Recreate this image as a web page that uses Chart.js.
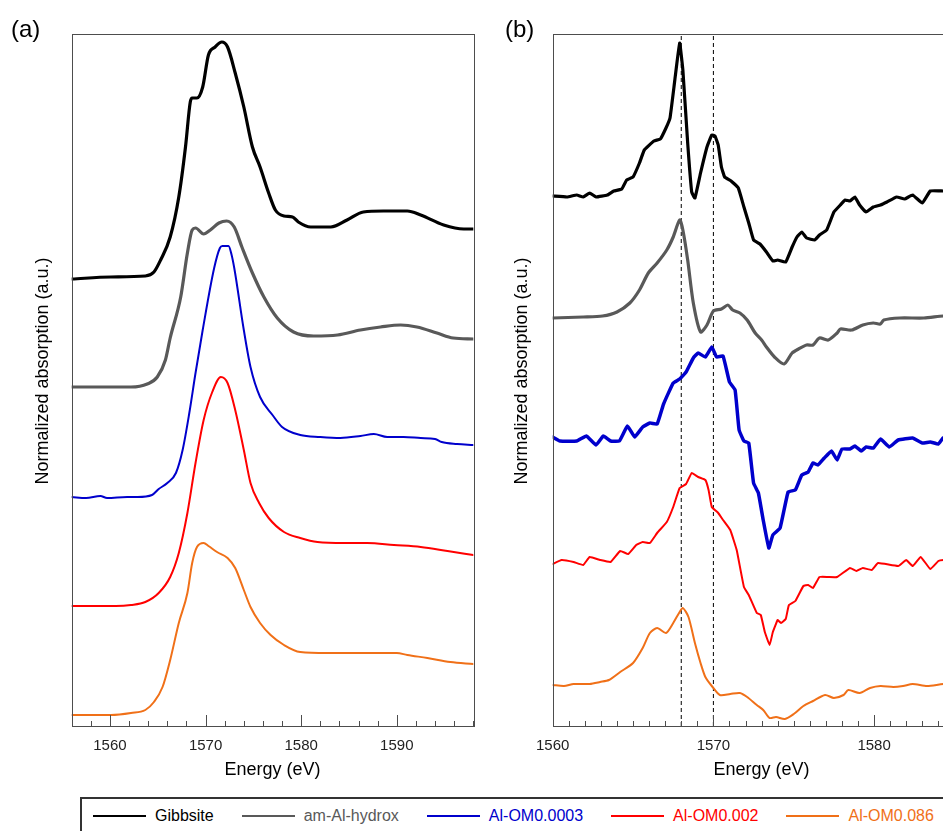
<!DOCTYPE html>
<html>
<head>
<meta charset="utf-8">
<script src="https://cdn.jsdelivr.net/npm/chart.js@4.4.0/dist/chart.umd.min.js"></script>
<style>
  html, body { margin: 0; padding: 0; overflow: hidden; background: #fff; }
  body { width: 943px; height: 831px; position: relative; font-family: 'Liberation Sans', Arial, sans-serif; }
  canvas { position: absolute; top: 0; }
  #panelA { left: 0; }
  #panelB { left: 490px; }
  #legend {
    position: absolute; left: 80px; top: 797px; width: 920px; height: 60px;
    border: 2px solid #333; box-sizing: border-box;
    display: flex; align-items: center;
    padding: 0 0 22px 11px; gap: 28px;
  }
  #legend .item { display: flex; align-items: center; font-size: 16px; white-space: nowrap; }
  #legend .swatch { width: 53px; height: 2px; margin-right: 9px; }
</style>
</head>
<body>
<canvas id="panelA" width="490" height="790"></canvas>
<canvas id="panelB" width="530" height="790"></canvas>
<div id="legend"></div>
<script>
// ---- series names / colours ----
const seriesNames = ['Gibbsite', 'am-Al-hydrox', 'Al-OM0.0003', 'Al-OM0.002', 'Al-OM0.086'];
const seriesColors = ['#000000', '#595959', '#0000CC', '#FF0000', '#F07018'];

// ---- (a) normalized XANES, stacked, [energy eV, a.u.] ----
const gibbsiteA = [[1556,4.47],[1560.1,4.49],[1563.7,4.50],[1564.6,4.54],[1565.3,4.66],[1566.3,4.89],[1567.2,5.29],[1567.9,5.79],[1568.4,6.24],[1568.6,6.28],[1569.1,6.28],[1569.7,6.39],[1570.3,6.71],[1571.0,6.79],[1571.7,6.84],[1572.3,6.79],[1573.1,6.53],[1574.0,6.19],[1574.9,5.79],[1575.7,5.59],[1576.6,5.33],[1577.3,5.16],[1578.2,5.10],[1579.1,5.09],[1579.7,5.04],[1581.0,4.99],[1583.1,4.99],[1584.8,5.06],[1586.5,5.14],[1588.6,5.15],[1591.1,5.15],[1592.5,5.11],[1594.9,5.01],[1597.0,4.97],[1598,4.97]];
const amAlA = [[1556,3.39],[1562.2,3.39],[1563.9,3.42],[1564.95,3.49],[1565.8,3.66],[1566.3,3.88],[1567.4,4.29],[1568.1,4.73],[1568.6,4.96],[1568.95,4.98],[1569.8,4.92],[1570.5,4.96],[1571.4,5.03],[1572.2,5.05],[1573.0,4.99],[1573.8,4.79],[1574.9,4.53],[1576.1,4.29],[1577.5,4.08],[1579.2,3.94],[1581.3,3.90],[1583.8,3.91],[1586.2,3.96],[1588.3,3.99],[1590.4,4.01],[1592.1,3.99],[1594.2,3.93],[1595.9,3.88],[1598,3.87]];
const om0003A = [[1556,2.29],[1557.5,2.28],[1559.0,2.30],[1559.7,2.28],[1561.8,2.29],[1562.9,2.29],[1564.4,2.31],[1565.1,2.37],[1566.0,2.43],[1566.9,2.53],[1567.6,2.76],[1568.3,3.13],[1568.95,3.53],[1569.7,3.96],[1570.9,4.58],[1571.5,4.78],[1571.75,4.80],[1572.4,4.80],[1572.7,4.72],[1573.0,4.58],[1574.0,3.96],[1574.7,3.59],[1575.7,3.29],[1577.0,3.11],[1578.0,2.99],[1579.9,2.91],[1582.0,2.89],[1584.1,2.88],[1586.2,2.90],[1587.6,2.92],[1589.0,2.89],[1590.7,2.89],[1592.5,2.88],[1594.0,2.87],[1594.7,2.84],[1596.3,2.82],[1598,2.81]];
const om002A = [[1556,1.20],[1558.3,1.20],[1560.6,1.20],[1562.2,1.21],[1563.7,1.24],[1565.1,1.33],[1566.3,1.49],[1567.2,1.73],[1568.1,2.13],[1568.95,2.63],[1569.8,3.06],[1570.7,3.34],[1571.6,3.49],[1572.3,3.43],[1573.1,3.16],[1574.0,2.76],[1574.7,2.43],[1575.6,2.23],[1576.6,2.08],[1578.2,1.94],[1579.9,1.88],[1581.7,1.84],[1584.5,1.83],[1586.9,1.83],[1589.7,1.81],[1592.5,1.79],[1595.3,1.75],[1598,1.71]];
const om086A = [[1556,0.11],[1560.1,0.11],[1562.2,0.13],[1563.7,0.16],[1564.6,0.24],[1565.5,0.39],[1566.3,0.66],[1567.2,1.03],[1568.1,1.33],[1568.6,1.63],[1569.1,1.79],[1569.8,1.83],[1570.3,1.80],[1571.2,1.74],[1572.3,1.68],[1573.1,1.58],[1574.0,1.36],[1574.7,1.19],[1575.7,1.03],[1576.8,0.91],[1578.2,0.81],[1579.9,0.74],[1582.7,0.73],[1586.2,0.73],[1590.0,0.73],[1591.1,0.71],[1593.2,0.68],[1595.6,0.64],[1598,0.62]];

// ---- (b) first derivative, stacked, [energy eV, a.u.] ----
const gibbsiteB = [[1560,5.30],[1560.9,5.29],[1561.5,5.31],[1561.9,5.29],[1562.3,5.33],[1562.7,5.29],[1563.4,5.31],[1563.8,5.35],[1564.3,5.37],[1564.6,5.46],[1565.0,5.49],[1565.4,5.63],[1565.7,5.76],[1566.3,5.85],[1566.7,5.87],[1567.05,5.98],[1567.3,6.08],[1567.6,6.46],[1567.9,6.83],[1568.1,6.56],[1568.4,5.83],[1568.65,5.34],[1568.85,5.28],[1569.2,5.53],[1569.6,5.79],[1569.9,5.91],[1570.1,5.90],[1570.3,5.81],[1570.5,5.59],[1570.7,5.49],[1571.1,5.45],[1571.55,5.38],[1571.9,5.19],[1572.2,5.03],[1572.5,4.86],[1572.9,4.82],[1573.3,4.74],[1573.7,4.65],[1574.0,4.66],[1574.5,4.64],[1574.9,4.79],[1575.2,4.89],[1575.5,4.94],[1575.8,4.88],[1576.3,4.86],[1576.6,4.91],[1577.05,4.96],[1577.5,5.14],[1577.9,5.21],[1578.2,5.26],[1578.5,5.25],[1578.8,5.29],[1579.1,5.21],[1579.5,5.14],[1579.95,5.19],[1580.4,5.21],[1580.8,5.24],[1581.4,5.29],[1581.9,5.27],[1582.4,5.31],[1583.0,5.23],[1583.5,5.35],[1584.3,5.35],[1585,5.35]];
const amAlB = [[1560,4.08],[1561.9,4.09],[1563.1,4.10],[1564.0,4.14],[1564.8,4.23],[1565.4,4.36],[1565.95,4.53],[1566.5,4.63],[1567.1,4.76],[1567.5,4.89],[1567.9,5.06],[1568.1,4.96],[1568.4,4.66],[1568.75,4.23],[1569.2,3.94],[1569.6,4.01],[1570.0,4.15],[1570.5,4.17],[1570.9,4.21],[1571.2,4.16],[1571.65,4.13],[1572.1,4.06],[1572.6,3.93],[1573.0,3.86],[1573.3,3.79],[1573.8,3.69],[1574.4,3.62],[1574.9,3.73],[1575.3,3.77],[1575.8,3.81],[1576.2,3.81],[1576.6,3.88],[1577.15,3.86],[1577.7,3.93],[1577.9,3.97],[1578.6,3.96],[1579.3,4.01],[1579.95,4.03],[1580.4,4.02],[1580.6,4.06],[1581.6,4.08],[1583.1,4.08],[1584.3,4.10],[1585,4.10]];
const om0003B = [[1560,2.89],[1560.45,2.85],[1561.5,2.85],[1562.1,2.90],[1562.7,2.81],[1563.15,2.90],[1563.6,2.85],[1564.15,2.85],[1564.65,3.00],[1565.1,2.89],[1565.6,2.99],[1566.05,3.03],[1566.5,3.02],[1566.9,3.22],[1567.5,3.43],[1567.9,3.47],[1568.3,3.54],[1568.75,3.68],[1569.05,3.73],[1569.5,3.69],[1569.9,3.79],[1570.2,3.69],[1570.6,3.70],[1571.0,3.44],[1571.35,3.36],[1571.6,2.96],[1571.9,2.85],[1572.2,2.83],[1572.5,2.43],[1572.8,2.33],[1573.1,2.06],[1573.45,1.78],[1573.7,1.91],[1574.15,1.98],[1574.65,2.34],[1575.1,2.36],[1575.5,2.51],[1575.9,2.54],[1576.2,2.63],[1576.5,2.61],[1576.9,2.68],[1577.35,2.75],[1577.7,2.66],[1578.0,2.77],[1578.5,2.77],[1578.8,2.80],[1579.2,2.75],[1579.5,2.79],[1579.95,2.78],[1580.4,2.87],[1580.95,2.79],[1581.5,2.86],[1582.4,2.88],[1583.0,2.83],[1583.5,2.84],[1584.0,2.82],[1584.3,2.88],[1585,2.88]];
const om002B = [[1560,1.62],[1560.55,1.66],[1561.3,1.64],[1561.9,1.61],[1562.3,1.69],[1562.95,1.66],[1563.6,1.64],[1564.2,1.75],[1564.7,1.72],[1565.2,1.81],[1565.6,1.84],[1566.05,1.83],[1566.5,1.93],[1567.1,2.04],[1567.5,2.19],[1567.9,2.38],[1568.3,2.42],[1568.65,2.53],[1569.05,2.49],[1569.5,2.46],[1569.7,2.36],[1569.9,2.19],[1570.3,2.13],[1570.6,2.06],[1571.05,1.96],[1571.45,1.76],[1571.9,1.39],[1572.2,1.31],[1572.7,1.13],[1572.95,1.11],[1573.2,0.94],[1573.5,0.81],[1573.7,0.94],[1574.0,1.06],[1574.2,1.03],[1574.5,1.07],[1574.7,1.21],[1575.1,1.25],[1575.6,1.40],[1575.9,1.41],[1576.2,1.38],[1576.6,1.49],[1577.15,1.49],[1577.7,1.49],[1578.5,1.58],[1578.9,1.55],[1579.3,1.58],[1579.85,1.56],[1580.25,1.63],[1581.5,1.60],[1582.0,1.66],[1582.4,1.60],[1582.9,1.69],[1583.5,1.57],[1584.0,1.65],[1584.3,1.66],[1585,1.66]];
const om086B = [[1560,0.41],[1560.7,0.40],[1561.3,0.42],[1562.3,0.42],[1562.95,0.44],[1563.5,0.46],[1564.2,0.54],[1565.0,0.63],[1565.6,0.78],[1566.05,0.93],[1566.5,0.98],[1567.05,0.93],[1567.5,1.03],[1567.9,1.14],[1568.1,1.18],[1568.45,1.09],[1568.85,0.83],[1569.2,0.63],[1569.5,0.49],[1569.9,0.40],[1570.4,0.31],[1571.05,0.32],[1571.65,0.33],[1572.1,0.29],[1572.7,0.21],[1573.1,0.16],[1573.5,0.08],[1573.9,0.09],[1574.45,0.07],[1575.0,0.12],[1575.6,0.20],[1576.2,0.25],[1576.95,0.31],[1577.5,0.28],[1578.1,0.31],[1578.4,0.36],[1579.1,0.33],[1579.75,0.38],[1580.4,0.40],[1581.2,0.39],[1581.8,0.40],[1582.4,0.42],[1583.3,0.40],[1584.3,0.42],[1585,0.42]];

// dashed reference energies in (b)
const refEnergies = [1568, 1570];
const yRange = [0, 6.92];

const FONT = "'Liberation Sans', Arial, sans-serif";
Chart.defaults.font.family = FONT;
Chart.defaults.color = '#222';

const toXY = pts => pts.map(p => ({ x: p[0], y: p[1] }));

// frame, inward ticks, panel letter and y title
const panelDecor = {
    id: 'panelDecor',
    afterDraw(chart, args, o) {
        const { ctx, chartArea: a, scales: { x } } = chart;
        ctx.save();
        ctx.strokeStyle = '#4d4d4d';
        ctx.lineWidth = 1;
        ctx.strokeRect(Math.round(a.left) + 0.5, Math.round(a.top) + 0.5,
            Math.round(a.right - a.left), Math.round(a.bottom - a.top));
        x.ticks.forEach(t => {
            const px = Math.round(x.getPixelForValue(t.value)) + 0.5;
            const len = t.value % 10 === 0 ? 11 : 5;
            ctx.beginPath();
            ctx.moveTo(px, a.bottom);
            ctx.lineTo(px, a.bottom - len);
            ctx.stroke();
        });
        ctx.fillStyle = '#000';
        ctx.textBaseline = 'middle';
        ctx.textAlign = 'left';
        ctx.font = '24px ' + FONT;
        ctx.fillText(o.letter, o.letterX, 30);
        ctx.translate(o.titleX, (a.top + a.bottom) / 2 - 9);
        ctx.rotate(-Math.PI / 2);
        ctx.textAlign = 'center';
        ctx.font = '18px ' + FONT;
        ctx.fillText('Normalized absorption (a.u.)', 0, 0);
        ctx.restore();
    }
};

function makePanel(id, seriesList, widths, cfg) {
    const datasets = seriesList.map((s, i) => ({
        label: seriesNames[i],
        data: toXY(s),
        borderColor: seriesColors[i],
        borderWidth: widths[i],
        pointRadius: 0,
        cubicInterpolationMode: cfg.smooth ? 'monotone' : 'default',
        tension: cfg.smooth ? 0.4 : cfg.tension[i],
        borderJoinStyle: 'round',
        borderCapStyle: 'round',
        order: i
    }));
    (cfg.refLines || []).forEach(e => datasets.push({
        label: 'ref ' + e,
        data: [{ x: e, y: yRange[0] }, { x: e, y: yRange[1] }],
        borderColor: '#000',
        borderWidth: 1,
        borderDash: [4, 3],
        pointRadius: 0,
        order: 10
    }));

    new Chart(document.getElementById(id), {
        type: 'line',
        data: { datasets },
        plugins: [panelDecor],
        options: {
            responsive: false,
            animation: false,
            events: [],
            layout: { padding: { top: 34, right: cfg.padRight, bottom: 0, left: 0 } },
            scales: {
                x: {
                    type: 'linear',
                    min: cfg.xMin, max: cfg.xMax,
                    grid: { display: false, drawTicks: false },
                    border: { display: false },
                    ticks: {
                        stepSize: cfg.step,
                        autoSkip: false,
                        maxRotation: 0,
                        padding: 11,
                        color: '#222',
                        font: { size: 15 },
                        callback: v => (v % 10 === 0 ? String(v) : '')
                    },
                    title: { display: true, text: 'Energy (eV)', color: '#000', font: { size: 18 }, padding: { top: 0, bottom: 9 } },
                    afterFit: s => { s.height = 64; }
                },
                y: {
                    min: yRange[0], max: yRange[1],
                    grid: { display: false, drawTicks: false },
                    border: { display: false },
                    ticks: { display: false },
                    afterFit: s => { s.width = cfg.yWidth; }
                }
            },
            plugins: {
                legend: { display: false },
                tooltip: { enabled: false },
                panelDecor: { letter: cfg.letter, letterX: cfg.letterX, titleX: cfg.titleX }
            }
        }
    });
}

makePanel('panelA', [gibbsiteA, amAlA, om0003A, om002A, om086A], [3.2, 3.2, 2, 2, 2], {
    xMin: 1556, xMax: 1598, step: 2, padRight: 16.7, yWidth: 71.7,
    smooth: true,
    letter: '(a)', letterX: 11, titleX: 43
});

makePanel('panelB', [gibbsiteB, amAlB, om0003B, om002B, om086B], [3.2, 3.2, 3.5, 2, 2], {
    xMin: 1560, xMax: 1586, step: 1, padRight: 49.5, yWidth: 62.7,
    tension: [0.1, 0.25, 0.1, 0.1, 0.25],
    refLines: refEnergies,
    letter: '(b)', letterX: 15, titleX: 32
});

// shared legend
const legend = document.getElementById('legend');
seriesNames.forEach((name, i) => {
    const item = document.createElement('div');
    item.className = 'item';
    item.style.color = seriesColors[i];
    item.innerHTML = `<span class="swatch" style="background:${seriesColors[i]}"></span><span>${name}</span>`;
    legend.appendChild(item);
});
</script>
</body>
</html>
